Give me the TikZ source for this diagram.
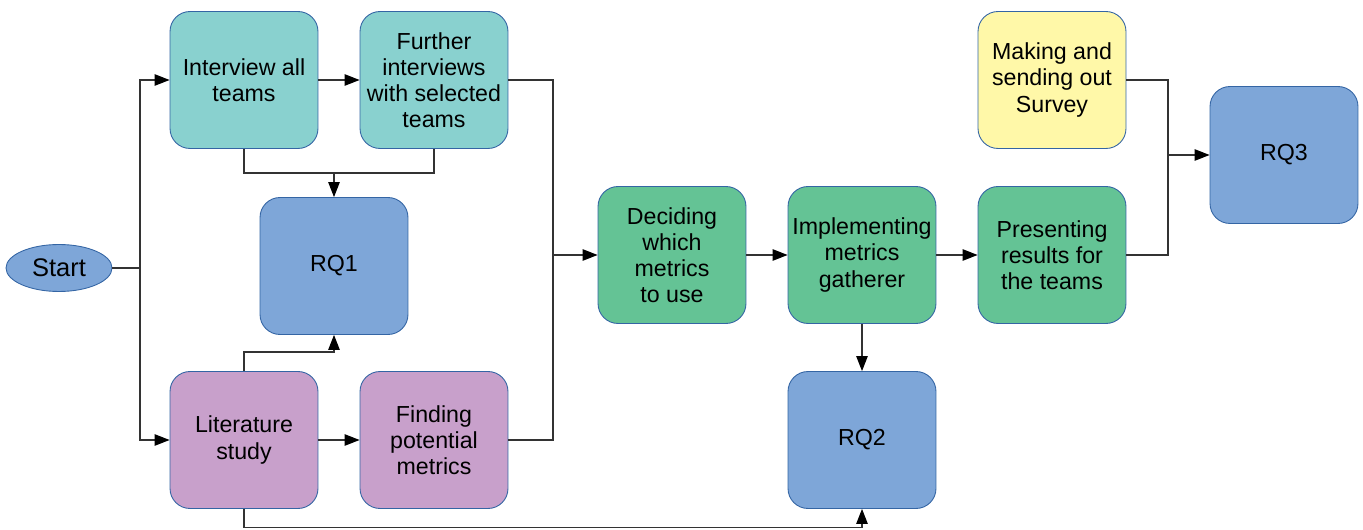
\documentclass[tikz,border=0pt]{standalone}
\usepackage{fontspec}
\setmainfont{Liberation Sans}
\usepackage{tikz}
\usetikzlibrary{arrows.meta, positioning, calc, shapes.geometric}
\definecolor{cteal}{RGB}{137,209,207}
\definecolor{cblue}{RGB}{126,166,216}
\definecolor{cpurple}{RGB}{200,160,203}
\definecolor{cgreen}{RGB}{100,195,149}
\definecolor{cyellow}{RGB}{255,248,168}
\definecolor{cborder}{RGB}{52,101,164}

\begin{document}
\begin{tikzpicture}[
    x=0.02cm, y=-0.02cm,
    >={Triangle[length=3mm, width=2.3mm, color=black]},
    flow/.style={draw=black!80, line width=0.6pt},
    stepbox/.style={draw=cborder, rounded corners=0.4cm, line width=0.5pt, minimum width=2.96cm, minimum height=2.74cm, align=center, inner sep=1pt, font=\fontsize{13.2}{14.9}\selectfont},
]
    \useasboundingbox (0,0) rectangle (1363,530);
    \node[ellipse, draw=cborder, fill=cblue, line width=0.5pt, minimum width=2.12cm, minimum height=0.94cm, inner sep=0pt, font=\fontsize{14.5}{16}\selectfont] (start) at (59,268) {Start};
    \node[stepbox, fill=cteal] (interview) at (244,80) {Interview all\\teams};
    \node[stepbox, fill=cteal] (further) at (434,80) {Further\\interviews\\with selected\\teams};
    \node[stepbox, fill=cblue] (rq1) at (334,266) {RQ1};
    \node[stepbox, fill=cpurple] (lit) at (244,440) {Literature\\study};
    \node[stepbox, fill=cpurple] (finding) at (434,440) {Finding\\potential\\metrics};
    \node[stepbox, fill=cgreen] (decide) at (672,255) {Deciding\\which\\metrics\\to use};
    \node[stepbox, fill=cgreen] (impl) at (862,255) {Implementing\\metrics\\gatherer};
    \node[stepbox, fill=cblue] (rq2) at (862,440) {RQ2};
    \node[stepbox, fill=cgreen] (present) at (1052,255) {Presenting\\results for\\the teams};
    \node[stepbox, fill=cyellow] (survey) at (1052,80) {Making and\\sending out\\Survey};
    \node[stepbox, fill=cblue] (rq3) at (1284,155) {RQ3};

    \coordinate (split) at (140,268);
    \coordinate (j1) at (334,173);
    \coordinate (j2) at (334,352);
    \coordinate (j3) at (553,255);
    \coordinate (j5) at (1168,155);

    % left branch
    \draw[flow] (start.east) -- (split);
    \draw[flow, ->] (split) |- (interview.west);
    \draw[flow, ->] (split) |- (lit.west);
    \draw[flow, ->] (interview) -- (further);
    \draw[flow, ->] (lit) -- (finding);
    % into RQ1
    \draw[flow] (interview.south) |- (j1) -| (further.south);
    \draw[flow, ->] (j1) -- (rq1.north);
    \draw[flow, ->] (lit.north) |- (j2) -- (rq1.south);
    % middle
    \draw[flow] (further.east) -| (j3);
    \draw[flow] (finding.east) -| (j3);
    \draw[flow, ->] (j3) -- (decide.west);
    \draw[flow, ->] (decide) -- (impl);
    \draw[flow, ->] (impl) -- (present);
    \draw[flow, ->] (impl) -- (rq2);
    \draw[flow, ->] (lit.south) -- ++(0,19) -| (rq2.south);
    % into RQ3
    \draw[flow] (survey.east) -| (j5);
    \draw[flow] (present.east) -| (j5);
    \draw[flow, ->] (j5) -- (rq3.west);
\end{tikzpicture}
\end{document}
